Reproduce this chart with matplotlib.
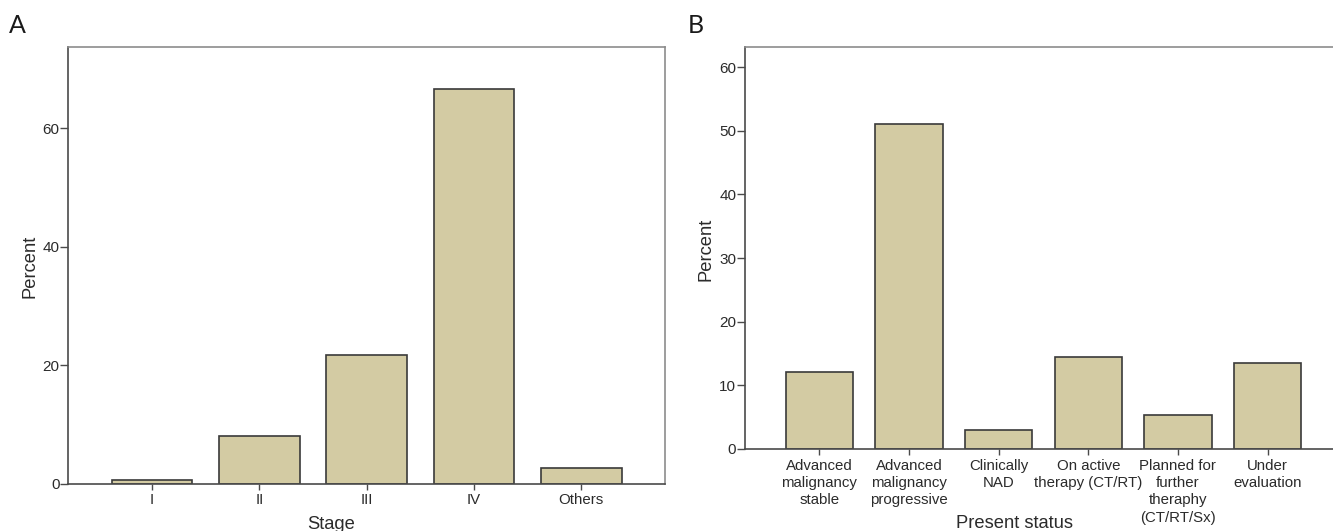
import matplotlib
matplotlib.use("Agg")
import matplotlib.pyplot as plt
import numpy as np

plt.rcParams['font.family'] = ['Liberation Sans', 'DejaVu Sans']

# panel A data
stage_labels = ["I", "II", "III", "IV", "Others"]
stage_pct = [0.7, 8.1, 21.8, 66.7, 2.7]

# panel B data
status_labels = [
    "Advanced\nmalignancy\nstable",
    "Advanced\nmalignancy\nprogressive",
    "Clinically\nNAD",
    "On active\ntherapy (CT/RT)",
    "Planned for\nfurther\ntheraphy\n(CT/RT/Sx)",
    "Under\nevaluation",
]
status_pct = [12.1, 51.0, 3.0, 14.4, 5.3, 13.5]

BAR_COLOR = "#d3cba3"
EDGE_COLOR = "#3a3a3a"
DARK = "#4a4a4a"
LIGHT = "#8c8c8c"
TEXT = "#2b2b2b"

W, H = 1333, 531
fig = plt.figure(figsize=(W / 100, H / 100), dpi=100)


def px_axes(left, right, top, bottom):
    # pixel box -> figure fraction
    return fig.add_axes([left / W, (H - bottom) / H, (right - left) / W, (bottom - top) / H])


def style_axes(ax, right_spine=True):
    ax.spines["left"].set_color(DARK)
    ax.spines["bottom"].set_color(DARK)
    ax.spines["left"].set_linewidth(1.2)
    ax.spines["bottom"].set_linewidth(1.2)
    ax.spines["top"].set_color(LIGHT)
    ax.spines["top"].set_linewidth(1.2)
    if right_spine:
        ax.spines["right"].set_color(LIGHT)
        ax.spines["right"].set_linewidth(1.2)
    else:
        ax.spines["right"].set_visible(False)
    ax.tick_params(axis="y", length=5.5, width=1, color=DARK, pad=0.8,
                   labelsize=11, labelcolor=TEXT)
    ax.tick_params(axis="x", length=4.5, width=1, color=DARK, pad=2.5,
                   labelsize=10.8, labelcolor=TEXT)


# ---- panel A ----
axA = px_axes(68.3, 665, 46.7, 483.7)
xa = np.arange(len(stage_labels))
axA.bar(xa, stage_pct, width=0.75, color=BAR_COLOR, edgecolor=EDGE_COLOR, linewidth=1.2)
axA.set_xlim(-0.78, len(stage_labels) - 1 + 0.78)
axA.set_ylim(0, 73.8)
axA.set_yticks([0, 20, 40, 60])
axA.set_xticks(xa)
axA.set_xticklabels(stage_labels)
style_axes(axA)

# ---- panel B ----
axB = px_axes(745, 1333, 46.7, 449)
xb = np.arange(len(status_labels))
axB.bar(xb, status_pct, width=0.75, color=BAR_COLOR, edgecolor=EDGE_COLOR, linewidth=1.2)
axB.set_xlim(-0.83, 5.73)
axB.set_ylim(0, 63.2)
axB.set_yticks([0, 10, 20, 30, 40, 50, 60])
axB.set_xticks(xb)
axB.set_xticklabels(status_labels, linespacing=1.3, va="top")
style_axes(axB, right_spine=False)

# axis titles
fig.text(331 / W, (H - 529) / H, "Stage", ha="center", va="baseline", fontsize=13.2, color=TEXT)
fig.text(1014 / W, (H - 528) / H, "Present status", ha="center", va="baseline", fontsize=13.2, color=TEXT)
fig.text(30 / W, (H - 266) / H, "Percent", rotation=90, ha="center", va="center", fontsize=13.2, color=TEXT)
fig.text(706 / W, (H - 249) / H, "Percent", rotation=90, ha="center", va="center", fontsize=13.2, color=TEXT)

# panel letters
fig.text(9 / W, (H - 33) / H, "A", ha="left", va="baseline", fontsize=18, color="#1a1a1a",
         family=["Lato", "DejaVu Sans"])
fig.text(688 / W, (H - 33) / H, "B", ha="left", va="baseline", fontsize=18, color="#1a1a1a",
         family=["Lato", "DejaVu Sans"])

fig.savefig("out.png", dpi=100, facecolor="white")
